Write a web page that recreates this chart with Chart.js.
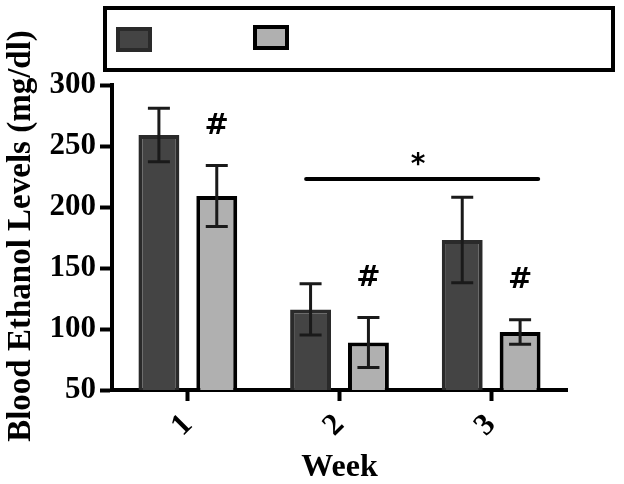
<!DOCTYPE html>
<html>
<head>
<meta charset="utf-8">
<script src="https://cdn.jsdelivr.net/npm/chart.js@4/dist/chart.umd.min.js"></script>
<style>
  html, body { margin: 0; padding: 0; background: #fff; }
  #wrap { width: 624px; height: 484px; }
</style>
</head>
<body>
<div id="wrap"><canvas id="c" width="624" height="484"></canvas></div>
<script>
// ---- data ----
const weeks = ['1', '2', '3'];
const darkValues = [259, 116, 173];
const darkErrors = [22, 21, 35];
const lightValues = [209, 89, 97.5];
const lightErrors = [25, 20.5, 10];
const lightHash = ['#', '#', '#'];          // marks above the light bars
const yTicks = [50, 100, 150, 200, 250, 300];
const sigFrom = '2', sigTo = '3', sigValue = 223, sigLabel = '*';
const yTitle = 'Blood Ethanol Levels (mg/dl)';
const xTitle = 'Week';

const serif = '"Liberation Serif", "Times New Roman", serif';
const markFont = '"DejaVu Sans", "Liberation Sans", Arial, sans-serif';

const errorsByDataset = [darkErrors, lightErrors];

const errorBarPlugin = {
  id: 'errorBars',
  afterDatasetsDraw(chart) {
    const ctx = chart.ctx;
    const y = chart.scales.y;
    ctx.save();
    ctx.strokeStyle = '#1a1a1a';
    ctx.lineWidth = 3;
    chart.data.datasets.forEach((ds, di) => {
      const meta = chart.getDatasetMeta(di);
      meta.data.forEach((bar, i) => {
        const v = ds.data[i], e = errorsByDataset[di][i];
        const top = y.getPixelForValue(v + e);
        const bot = y.getPixelForValue(v - e);
        const cap = 11;
        ctx.beginPath();
        ctx.moveTo(bar.x, top); ctx.lineTo(bar.x, bot);
        ctx.moveTo(bar.x - cap, top); ctx.lineTo(bar.x + cap, top);
        ctx.moveTo(bar.x - cap, bot); ctx.lineTo(bar.x + cap, bot);
        ctx.stroke();
      });
    });
    // hash marks above the light bars
    const lmeta = chart.getDatasetMeta(1);
    ctx.fillStyle = '#000';
    ctx.font = 'bold 29px ' + markFont;
    ctx.textAlign = 'center';
    ctx.textBaseline = 'middle';
    lmeta.data.forEach((bar, i) => {
      const top = y.getPixelForValue(lightValues[i] + lightErrors[i]);
      ctx.fillText(lightHash[i], bar.x, top - 39);
    });
    // significance line
    const x = chart.scales.x;
    const cw = x.getPixelForValue(1) - x.getPixelForValue(0);
    const x1 = x.getPixelForValue(weeks.indexOf(sigFrom)) - 0.22 * cw;
    const x2 = x.getPixelForValue(weeks.indexOf(sigTo)) + 0.31 * cw;
    const ly = y.getPixelForValue(sigValue);
    ctx.lineWidth = 4;
    ctx.lineCap = 'round';
    ctx.strokeStyle = '#000';
    ctx.beginPath();
    ctx.moveTo(x1, ly); ctx.lineTo(x2, ly);
    ctx.stroke();
    ctx.font = 'bold 28px ' + markFont;
    ctx.fillText(sigLabel, (x1 + x2) / 2 - 4, ly - 13);
    ctx.restore();
  }
};

const legendBoxPlugin = {
  id: 'legendBox',
  afterDraw(chart) {
    const ctx = chart.ctx;
    ctx.save();
    ctx.strokeStyle = '#000';
    ctx.lineWidth = 4;
    ctx.strokeRect(105, 8, 508, 62);
    const sw = [[116, 27], [253, 25]];
    chart.data.datasets.forEach((ds, i) => {
      ctx.fillStyle = ds.backgroundColor;
      ctx.fillRect(sw[i][0], sw[i][1], 36, 25);
      ctx.strokeStyle = ds.borderColor;
      ctx.lineWidth = 4;
      ctx.strokeRect(sw[i][0] + 2, sw[i][1] + 2, 32, 21);
    });
    // y axis title
    ctx.fillStyle = '#000';
    ctx.font = 'bold 33px ' + serif;
    ctx.textAlign = 'center';
    ctx.textBaseline = 'middle';
    ctx.translate(21, 236);
    ctx.rotate(-Math.PI / 2);
    ctx.fillText(yTitle, 0, 0);
    ctx.restore();
  }
};

new Chart(document.getElementById('c'), {
  type: 'bar',
  data: {
    labels: weeks,
    datasets: [
      { label: '', data: darkValues, backgroundColor: '#444444', borderColor: '#2a2a2a',
        borderWidth: 4, borderSkipped: false, barPercentage: 0.707, categoryPercentage: 0.763 },
      { label: '', data: lightValues, backgroundColor: '#b0b0b0', borderColor: '#000000',
        borderWidth: 4, borderSkipped: false, barPercentage: 0.707, categoryPercentage: 0.763 }
    ]
  },
  options: {
    responsive: false,
    animation: false,
    devicePixelRatio: 1,
    layout: { padding: { top: 85, right: 57, left: 0, bottom: 0 } },
    plugins: { legend: { display: false }, tooltip: { enabled: false }, title: { display: false } },
    scales: {
      x: {
        afterFit(s) { s.height = 94; },
        grid: { offset: false, drawOnChartArea: false, tickLength: 11, tickWidth: 4, tickColor: '#000' },
        border: { display: true, width: 4, color: '#000' },
        ticks: { minRotation: 45, maxRotation: 45, padding: 6, color: '#000',
                 font: { family: serif, size: 31, weight: 'bold' } },
        title: { display: true, text: xTitle, color: '#000', padding: { top: 0, bottom: 0 },
                 font: { family: serif, size: 32, weight: 'bold', lineHeight: 1.0 } }
      },
      y: {
        min: 50, max: 300,
        afterFit(s) { s.width = 112; },
        afterBuildTicks(s) { s.ticks = yTicks.map(v => ({ value: v })); },
        grid: { drawOnChartArea: false, tickLength: 12, tickWidth: 4, tickColor: '#000' },
        border: { display: true, width: 4, color: '#000' },
        ticks: { padding: 4, color: '#000', font: { family: serif, size: 31, weight: 'bold' } }
      }
    }
  },
  plugins: [errorBarPlugin, legendBoxPlugin]
});
</script>
</body>
</html>
